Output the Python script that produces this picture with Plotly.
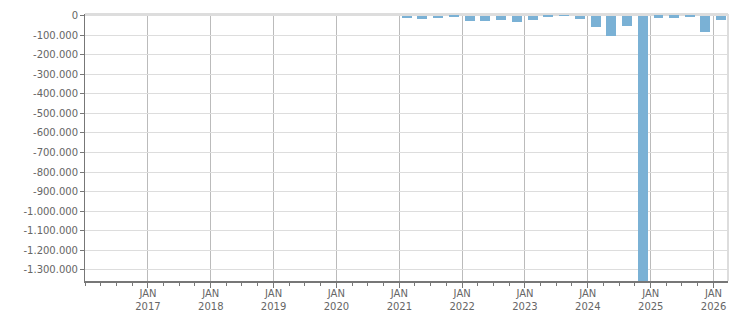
import plotly.graph_objects as go

# Quarterly data (mid-quarter dates) and values
quarters = ["2021-02-15", "2021-05-15", "2021-08-15", "2021-11-15",
            "2022-02-15", "2022-05-15", "2022-08-15", "2022-11-15",
            "2023-02-15", "2023-05-15", "2023-08-15", "2023-11-15",
            "2024-02-15", "2024-05-15", "2024-08-15", "2024-11-15",
            "2025-02-15", "2025-05-15", "2025-08-15", "2025-11-15",
            "2026-02-15"]
values = [-12000, -17000, -12000, -6000,
          -27000, -27000, -22000, -33000,
          -22000, -5000, 5000, -17000,
          -57000, -107000, -52000, -1356000,
          -10000, -10000, -5000, -82000,
          -22000]

year_ticks = ["2017-01-01", "2018-01-01", "2019-01-01", "2020-01-01", "2021-01-01",
              "2022-01-01", "2023-01-01", "2024-01-01", "2025-01-01", "2026-01-01"]
year_labels = ["JAN<br>2017", "JAN<br>2018", "JAN<br>2019", "JAN<br>2020", "JAN<br>2021",
               "JAN<br>2022", "JAN<br>2023", "JAN<br>2024", "JAN<br>2025", "JAN<br>2026"]

y_ticks = [0, -100000, -200000, -300000, -400000, -500000, -600000, -700000,
           -800000, -900000, -1000000, -1100000, -1200000, -1300000]


def fmt(v):
    s = f"{abs(v):,}".replace(",", ".")
    return ("-" + s) if v < 0 else s


y_labels = [fmt(v) for v in y_ticks]

DAY = 86400000
fig = go.Figure()
fig.add_trace(go.Bar(
    x=quarters, y=values, width=58 * DAY,
    marker=dict(color="#7AB1D5", line=dict(width=0)),
))

font = dict(family="DejaVu Sans", size=10, color="#666666")

fig.update_layout(
    width=751, height=313,
    margin=dict(l=85, r=23, t=14, b=32, autoexpand=False),
    paper_bgcolor="white", plot_bgcolor="white",
    showlegend=False,
    bargap=0,
    font=font,
    xaxis=dict(
        type="date", automargin=False,
        range=["2016-01-01", "2026-03-26"],
        tickmode="array", tickvals=year_ticks, ticktext=year_labels,
        ticks="outside", ticklen=5, tickcolor="#777777", tickwidth=1,
        ticklabelstandoff=-3,
        showgrid=True, gridcolor="#BBBBBB", gridwidth=1,
        showline=True, linecolor="#777777", linewidth=2,
        minor=dict(dtick="M3", tick0="2016-01-01", ticks="outside", ticklen=3,
                   tickcolor="#777777", showgrid=False),
        tickfont=font, zeroline=False,
    ),
    yaxis=dict(
        automargin=False,
        range=[-1357000, 8000],
        tickmode="array", tickvals=y_ticks, ticktext=y_labels,
        ticks="outside", ticklen=4, tickcolor="#777777",
        showgrid=True, gridcolor="#DDDDDD", gridwidth=1,
        showline=True, linecolor="#777777", linewidth=1,
        zeroline=False, tickfont=font,
    ),
    shapes=[
        dict(type="line", xref="paper", yref="paper", x0=0, x1=1, y0=1, y1=1,
             line=dict(color="#DDDDDD", width=2)),
        dict(type="line", xref="paper", yref="paper", x0=1, x1=1, y0=0, y1=1,
             line=dict(color="#DDDDDD", width=2)),
    ],
)

fig.write_html("out.html")
